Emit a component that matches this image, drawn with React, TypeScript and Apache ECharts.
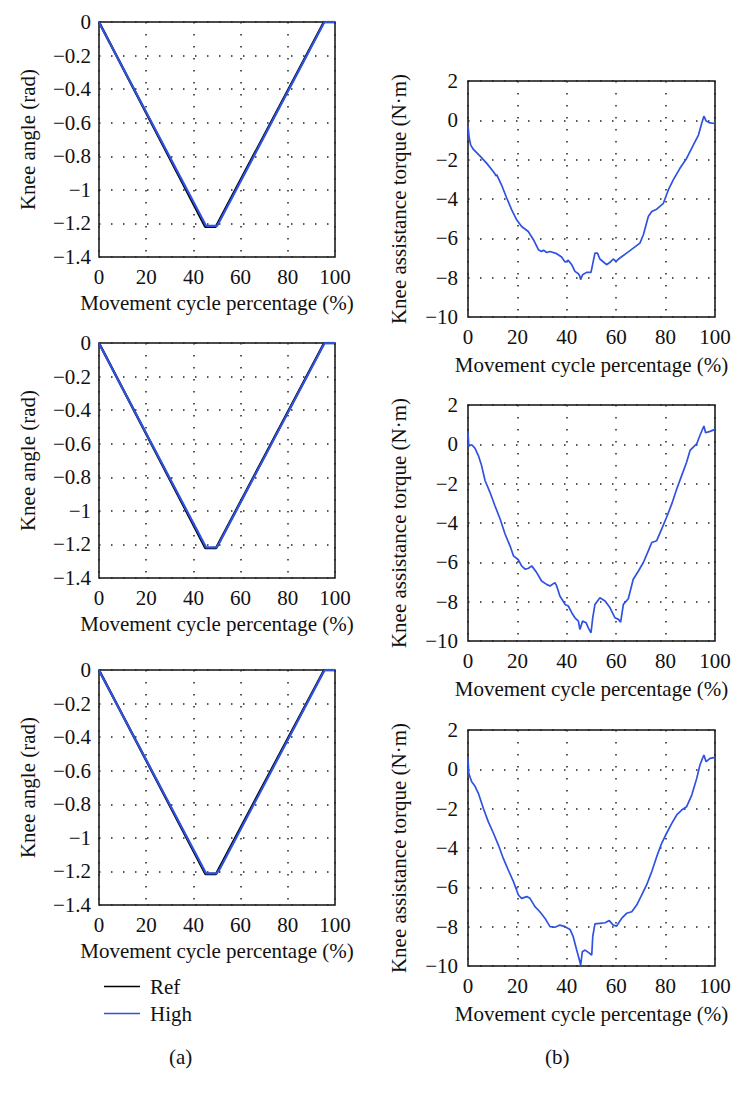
import React, { useEffect, useRef } from "react";
import * as echarts from "echarts";

// ---- data ----
const xTicks = [0, 20, 40, 60, 80, 100];
const angleTicks = [0, -0.2, -0.4, -0.6, -0.8, -1, -1.2, -1.4];
const torqueTicks = [2, 0, -2, -4, -6, -8, -10];

const angleRef1 = [[0, 0], [45.0, -1.22], [49.5, -1.22], [95.3, 0], [100, 0]];
const angleHigh1 = [[0, 0], [1, -0.03], [45.4, -1.215], [50.0, -1.215], [51, -1.19], [95.5, 0], [100, 0]];
const angleRef2 = [[0, 0], [45.1, -1.222], [49.6, -1.222], [95.4, 0], [100, 0]];
const angleHigh2 = [[0, 0], [1, -0.03], [45.4, -1.218], [49.8, -1.218], [51, -1.19], [95.6, 0], [100, 0]];
const angleRef3 = [[0, 0], [45.1, -1.215], [49.6, -1.215], [95.4, 0], [100, 0]];
const angleHigh3 = [[0, 0], [1, -0.03], [45.4, -1.212], [49.8, -1.212], [51, -1.19], [95.6, 0], [100, 0]];

const torque1 = [
  [0, -0.3], [0.5, -0.9], [1.1, -1.26], [2.2, -1.48], [4.9, -1.82], [7.6, -2.19], [10.3, -2.61],
  [10.8, -2.7], [11.3, -2.83], [11.6, -2.76], [13.6, -3.29], [15.7, -3.96], [17.7, -4.55], [19.7, -5.06],
  [21.7, -5.4], [24.4, -5.65], [26.5, -6.07], [28.5, -6.58], [29.8, -6.67], [30.6, -6.6], [31.8, -6.72],
  [33.2, -6.67], [35.9, -6.78], [37.9, -6.95], [39.3, -7.21], [40.6, -7.12], [42, -7.34], [43.3, -7.68],
  [44.7, -7.8], [45.2, -7.9], [45.6, -8.1], [46.4, -7.85], [48, -7.73], [49.8, -7.73], [50.7, -7.17],
  [51.4, -6.75], [52.4, -6.75], [53.4, -7.05], [56.1, -7.34], [57.5, -7.22], [58.8, -7.05], [59.9, -7.17],
  [61.5, -7.0], [64.2, -6.75], [66.9, -6.5], [69.6, -6.24], [71, -5.82], [73, -4.89], [74.4, -4.64],
  [76.4, -4.52], [79.1, -4.22], [81.1, -3.54], [83.1, -3.03], [85.8, -2.44], [88.5, -1.94], [91.2, -1.26],
  [93.3, -0.75], [94.6, -0.16], [95.5, 0.21], [96.4, -0.03], [98, -0.13], [100, -0.16],
];

const torque2 = [
  [0, 0.62], [0.3, -0.09], [1.5, -0.02], [2.8, -0.19], [4.2, -0.57], [5.5, -1.08], [6.9, -1.84],
  [8.9, -2.44], [10.9, -3.12], [13, -3.8], [15, -4.56], [17, -5.16], [18.4, -5.67], [20.4, -5.87],
  [21.7, -6.18], [23.1, -6.35], [24.5, -6.3], [25.8, -6.18], [27.8, -6.52], [29.8, -6.95], [31.8, -7.12],
  [33.2, -7.2], [35.2, -7.03], [35.9, -7.2], [37.2, -7.71], [39.3, -8.14], [40.6, -8.22], [42, -8.56],
  [43.3, -8.82], [44.7, -8.99], [45.3, -9.41], [46.4, -8.99], [47.8, -9.07], [48.7, -9.33], [49.8, -9.58],
  [50.5, -8.82], [51.4, -8.14], [53.4, -7.8], [55.5, -7.97], [57.5, -8.31], [59.5, -8.82], [60.9, -8.9],
  [61.8, -9.04], [62.9, -8.14], [64.9, -7.85], [66.9, -6.86], [69, -6.44], [71, -6.01], [73, -5.42],
  [74.4, -4.99], [76.4, -4.9], [78.4, -4.31], [80.4, -3.71], [82.5, -3.03], [84.5, -2.27], [86.5, -1.59],
  [88.5, -0.91], [89.9, -0.31], [91.2, -0.14], [92.6, 0.03], [93.9, 0.45], [95.5, 0.93], [96.2, 0.59],
  [98, 0.66], [100, 0.76],
];

const torque3 = [
  [0, 0.56], [0.3, -0.2], [1.5, -0.63], [2.8, -0.85], [4.2, -1.22], [6.2, -1.98], [8.2, -2.66],
  [10.3, -3.25], [12.3, -3.85], [14.3, -4.53], [16.3, -5.12], [18.4, -5.71], [20.4, -6.39], [21.7, -6.56],
  [23.8, -6.47], [25.1, -6.56], [27.1, -6.98], [29.1, -7.24], [31.2, -7.58], [33.2, -8.0], [35.2, -8.03],
  [37.2, -7.92], [39.3, -8.0], [41.3, -8.14], [42.6, -8.51], [44, -9.19], [45.1, -9.69], [45.6, -9.95],
  [46.3, -9.27], [47.4, -9.19], [48.7, -9.31], [50.1, -9.44], [50.5, -8.51], [51.4, -7.86], [53.4, -7.83],
  [55.5, -7.8], [57.2, -7.69], [58.8, -7.92], [60.2, -7.97], [62.2, -7.58], [64.2, -7.32], [66.3, -7.24],
  [68.3, -6.9], [70.3, -6.39], [72.3, -5.88], [74.4, -5.2], [76.4, -4.44], [78.4, -3.76], [80.4, -3.25],
  [82.5, -2.75], [84.5, -2.32], [86.5, -2.07], [88.5, -1.9], [90.6, -1.31], [92.6, -0.46], [93.9, 0.22],
  [95.5, 0.73], [96.4, 0.39], [98, 0.56], [100, 0.61],
];

const legendNames = ["Ref", "High"];
const captions = ["(a)", "(b)"];
const xName = "Movement cycle percentage (%)";
const angleName = "Knee angle (rad)";
const torqueName = "Knee assistance torque (N\u00b7m)";

const FONT = "'Liberation Serif', 'DejaVu Serif', serif";
const BLUE = "#2f52e0";

export default function App() {
  const ref = useRef<HTMLDivElement>(null);
  useEffect(() => {
    if (!ref.current) return;
    const chart = echarts.init(ref.current, undefined, { renderer: "svg" });

    const leftGrids = [22, 343, 670].map((t) => ({ left: 99, top: t, width: 236, height: 235 }));
    const rightGrids = [81, 405, 730].map((t) => ({ left: 468, top: t, width: 247, height: 236 }));
    const grids = [...leftGrids, ...rightGrids].map((g) => ({
      ...g,
      show: true,
      borderColor: "#111",
      borderWidth: 1.5,
      backgroundColor: "transparent",
    }));

    const dotted = { show: true, lineStyle: { type: [1.5, 10.5], color: "#222", width: 1.5 } };
    const labelStyle = { color: "#111", fontFamily: FONT, fontSize: 21 };
    const fmt = (v: number) => {
      const r = Math.round(v * 10) / 10;
      return r === 0 ? "0" : String(r).replace("-", "\u2212");
    };

    const xAxes = grids.map((_, i) => ({
      type: "value",
      gridIndex: i,
      min: xTicks[0],
      max: xTicks[xTicks.length - 1],
      interval: 20,
      axisLine: { show: false },
      axisTick: { show: false },
      splitLine: dotted,
      axisLabel: { ...labelStyle, margin: 9, formatter: fmt },
      name: xName,
      nameLocation: "middle",
      nameGap: i < 3 ? 35 : 37,
      nameTextStyle: { ...labelStyle },
    }));

    const yAxes = grids.map((_, i) => {
      const left = i < 3;
      const ticks = left ? angleTicks : torqueTicks;
      return {
        type: "value",
        gridIndex: i,
        min: Math.min(...ticks),
        max: Math.max(...ticks),
        interval: left ? 0.2 : 2,
        axisLine: { show: false },
        axisTick: { show: false },
        splitLine: dotted,
        axisLabel: { ...labelStyle, margin: left ? 8 : 10, formatter: fmt },
        name: left ? angleName : torqueName,
        nameLocation: "middle",
        nameGap: left ? 61 : 59,
        nameTextStyle: { ...labelStyle },
      };
    });

    const refs = [angleRef1, angleRef2, angleRef3];
    const highs = [angleHigh1, angleHigh2, angleHigh3];
    const torques = [torque1, torque2, torque3];
    const series: any[] = [];
    for (let i = 0; i < 3; i++) {
      series.push({
        name: legendNames[0], type: "line", xAxisIndex: i, yAxisIndex: i, data: refs[i],
        showSymbol: false, lineStyle: { color: "#000", width: 2.4 }, itemStyle: { color: "#000" },
      });
      series.push({
        name: legendNames[1], type: "line", xAxisIndex: i, yAxisIndex: i, data: highs[i],
        showSymbol: false, lineStyle: { color: BLUE, width: 2.2 }, itemStyle: { color: BLUE },
      });
    }
    for (let i = 0; i < 3; i++) {
      series.push({
        name: legendNames[1], type: "line", xAxisIndex: 3 + i, yAxisIndex: 3 + i, data: torques[i],
        showSymbol: false, lineStyle: { color: BLUE, width: 1.7 }, itemStyle: { color: BLUE },
      });
    }

    chart.setOption({
      animation: false,
      grid: grids,
      xAxis: xAxes,
      yAxis: yAxes,
      series,
      legend: {
        data: legendNames,
        orient: "vertical",
        left: 99,
        top: 971,
        itemWidth: 36,
        itemHeight: 22,
        itemGap: 6,
        icon: "path://M0,0 L36,0 L36,1.6 L0,1.6 Z",
        textStyle: { ...labelStyle, padding: [0, 0, 0, 5] },
      },
      graphic: [
        { type: "text", left: 169, top: 1046, style: { text: captions[0], font: `21px ${FONT}`, fill: "#111" } },
        { type: "text", left: 545, top: 1046, style: { text: captions[1], font: `21px ${FONT}`, fill: "#111" } },
      ],
    });
    return () => chart.dispose();
  }, []);

  return (
    <div
      ref={ref}
      style={{ position: "absolute", left: 0, top: 0, width: 743, height: 1102, background: "#fff" }}
    />
  );
}
